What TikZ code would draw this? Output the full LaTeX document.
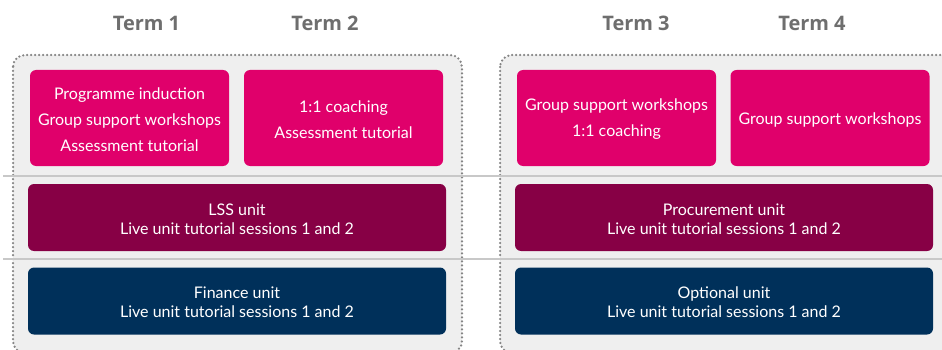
\documentclass[tikz,border=0pt]{standalone}
\usepackage{fontspec}
\setmainfont{Lato}
\newfontfamily\termfont{Open Sans}
\definecolor{pinkc}{HTML}{E0006B}
\definecolor{maroonc}{HTML}{870045}
\definecolor{navyc}{HTML}{00305A}
\definecolor{panelc}{HTML}{EFEFEF}
\definecolor{dotc}{HTML}{858585}
\definecolor{rulec}{HTML}{C8C8C8}
\definecolor{termc}{HTML}{6E6E6E}
\tikzset{
  panel/.style={fill=panelc, draw=dotc, line width=2.5pt, dash pattern=on 0pt off 4pt, line cap=round, rounded corners=12pt},
  rulel/.style={draw=rulec, line width=2pt},
  termlabel/.style={font=\termfont\bfseries\fontsize{20}{24}\selectfont, text=termc, inner sep=0pt},
  box/.style={rectangle, rounded corners=6pt, text=white, align=center, inner sep=0pt},
  pinkbox/.style={box, fill=pinkc, minimum width=199pt, minimum height=96pt},
  unitbox/.style={box, minimum width=418pt, minimum height=67pt},
  pinktext/.style={box, font=\fontsize{16}{26}\selectfont},
  unittext/.style={box, font=\fontsize{16}{19}\selectfont},
}
\begin{document}
\begin{tikzpicture}[x=1pt, y=-1pt]
\useasboundingbox (0,0) rectangle (942,350);
\clip (0,0) rectangle (942,350);
% panels
\path[panel] (13,55) rectangle (462,353);
\path[panel] (500,55) rectangle (960,353);
% rules
\draw[rulel] (3,176) -- (942,176);
\draw[rulel] (3,259) -- (942,259);
% term labels
\node[termlabel] (t1) at (146.5,23) {Term 1};
\node[termlabel] (t2) at (325,23) {Term 2};
\node[termlabel] (t3) at (636,23) {Term 3};
\node[termlabel] (t4) at (812,23) {Term 4};
% pink boxes
\node[pinkbox] (p1) at (129.5,118) {};
\node[pinkbox] (p2) at (343.5,118) {};
\node[pinkbox] (p3) at (616.5,118) {};
\node[pinkbox] (p4) at (830,118) {};
\node[pinktext] (p1t) at ([yshift=-1.5pt]p1.center) {Programme induction\\Group support workshops\\Assessment tutorial};
\node[pinktext] (p2t) at ([yshift=-1.5pt]p2.center) {1:1 coaching\\Assessment tutorial};
\node[pinktext] (p3t) at ([yshift=-1.5pt]p3.center) {Group support workshops\\1:1 coaching};
\node[pinktext] (p4t) at ([yshift=-1.5pt]p4.center) {Group support workshops};
% unit boxes
\node[unitbox, fill=maroonc] (u1) at (237,217.5) {};
\node[unitbox, fill=maroonc] (u2) at (724,217.5) {};
\node[unitbox, fill=navyc] (u3) at (237,301) {};
\node[unitbox, fill=navyc] (u4) at (724,301) {};
\node[unittext] (u1t) at ([yshift=-1.5pt]u1.center) {LSS unit\\Live unit tutorial sessions 1 and 2};
\node[unittext] (u2t) at ([yshift=-1.5pt]u2.center) {Procurement unit\\Live unit tutorial sessions 1 and 2};
\node[unittext] (u3t) at ([yshift=-1.5pt]u3.center) {Finance unit\\Live unit tutorial sessions 1 and 2};
\node[unittext] (u4t) at ([yshift=-1.5pt]u4.center) {Optional unit\\Live unit tutorial sessions 1 and 2};
\end{tikzpicture}
\end{document}
